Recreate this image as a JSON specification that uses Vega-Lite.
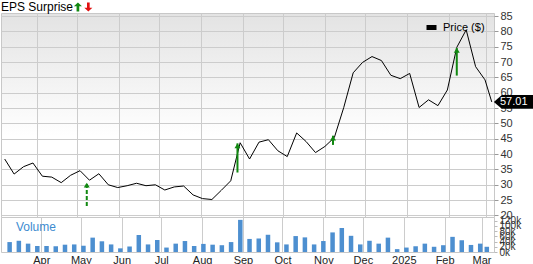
{
  "$schema": "https://vega.github.io/schema/vega-lite/v6.json",
  "padding": 0,
  "background": "white",
  "spacing": 0,
  "bounds": "flush",
  "config": {
    "font": "Liberation Sans",
    "view": {"stroke": "#c8c8c8"},
    "axis": {"gridColor": "#cccccc", "gridWidth": 1, "labelFont": "Liberation Sans", "labelFlush": false}
  },
  "datasets": {
    "weekly": [
      {"date": "2024/03/08", "price": 38.4, "volume": 38000},
      {"date": "2024/03/15", "price": 33.5, "volume": 43000},
      {"date": "2024/03/22", "price": 35.9, "volume": 32000},
      {"date": "2024/03/29", "price": 37.1, "volume": 23000},
      {"date": "2024/04/05", "price": 32.8, "volume": 23000},
      {"date": "2024/04/12", "price": 32.5, "volume": 22000},
      {"date": "2024/04/19", "price": 30.7, "volume": 28000},
      {"date": "2024/04/26", "price": 33.1, "volume": 29000},
      {"date": "2024/05/03", "price": 34.6, "volume": 24000},
      {"date": "2024/05/10", "price": 31.5, "volume": 55000},
      {"date": "2024/05/17", "price": 33.6, "volume": 41000},
      {"date": "2024/05/24", "price": 30.0, "volume": 29000},
      {"date": "2024/05/31", "price": 29.1, "volume": 14000},
      {"date": "2024/06/07", "price": 29.7, "volume": 21000},
      {"date": "2024/06/14", "price": 30.5, "volume": 65000},
      {"date": "2024/06/21", "price": 29.7, "volume": 29000},
      {"date": "2024/06/28", "price": 30.0, "volume": 46000},
      {"date": "2024/07/05", "price": 28.3, "volume": 17000},
      {"date": "2024/07/12", "price": 29.3, "volume": 32000},
      {"date": "2024/07/19", "price": 29.6, "volume": 42000},
      {"date": "2024/07/26", "price": 26.7, "volume": 23000},
      {"date": "2024/08/02", "price": 25.5, "volume": 31000},
      {"date": "2024/08/09", "price": 25.2, "volume": 28000},
      {"date": "2024/08/16", "price": 28.2, "volume": 26000},
      {"date": "2024/08/23", "price": 31.3, "volume": 38000},
      {"date": "2024/08/30", "price": 43.7, "volume": 123000},
      {"date": "2024/09/06", "price": 38.4, "volume": 50000},
      {"date": "2024/09/13", "price": 43.9, "volume": 52000},
      {"date": "2024/09/20", "price": 44.7, "volume": 66000},
      {"date": "2024/09/27", "price": 41.1, "volume": 37000},
      {"date": "2024/10/04", "price": 39.2, "volume": 29000},
      {"date": "2024/10/11", "price": 46.9, "volume": 61000},
      {"date": "2024/10/18", "price": 44.1, "volume": 56000},
      {"date": "2024/10/25", "price": 40.5, "volume": 29000},
      {"date": "2024/11/01", "price": 42.5, "volume": 42000},
      {"date": "2024/11/08", "price": 45.4, "volume": 75000},
      {"date": "2024/11/15", "price": 55.2, "volume": 92000},
      {"date": "2024/11/22", "price": 66.5, "volume": 62000},
      {"date": "2024/11/29", "price": 69.9, "volume": 29000},
      {"date": "2024/12/06", "price": 71.8, "volume": 43000},
      {"date": "2024/12/13", "price": 70.5, "volume": 32000},
      {"date": "2024/12/20", "price": 65.7, "volume": 55000},
      {"date": "2024/12/27", "price": 64.6, "volume": 11000},
      {"date": "2025/01/03", "price": 66.3, "volume": 17000},
      {"date": "2025/01/10", "price": 55.2, "volume": 22000},
      {"date": "2025/01/17", "price": 57.7, "volume": 32000},
      {"date": "2025/01/24", "price": 55.8, "volume": 20000},
      {"date": "2025/01/31", "price": 60.9, "volume": 26000},
      {"date": "2025/02/07", "price": 74.8, "volume": 58000},
      {"date": "2025/02/14", "price": 80.5, "volume": 45000},
      {"date": "2025/02/21", "price": 68.5, "volume": 27000},
      {"date": "2025/02/28", "price": 64.2, "volume": 32000},
      {"date": "2025/03/05", "price": 57.01, "volume": 20000}
    ],
    "eps": [
      {"date": "2024/05/08", "low": 23.1, "high": 30.7, "kind": "dashed"},
      {"date": "2024/08/28", "low": 34.0, "high": 43.5, "kind": "solid"},
      {"date": "2024/11/07", "low": 43.0, "high": 46.0, "kind": "solid"},
      {"date": "2025/02/07", "low": 65.6, "high": 74.6, "kind": "solid"}
    ],
    "last": [{"date": "2025/03/05", "price": 57.01}],
    "header": [{"label": "EPS Surprise"}]
  },
  "vconcat": [
    {
      "width": 493,
      "height": 204,
      "view": {
        "stroke": "#c8c8c8",
        "fill": {
          "gradient": "linear", "x1": 0, "y1": 0, "x2": 0, "y2": 1,
          "stops": [{"offset": 0, "color": "#e3e3e3"}, {"offset": 0.6, "color": "#ffffff"}, {"offset": 1, "color": "#ffffff"}]
        }
      },
      "encoding": {
        "x": {
          "type": "temporal",
          "scale": {"domain": [{"year": 2024, "month": 3, "date": 5, "hours": 6}, {"year": 2025, "month": 3, "date": 6, "hours": 16}]},
          "axis": {"title": null, "labels": false, "ticks": false, "domain": false, "grid": true, "tickCount": {"interval": "month", "step": 1}, "minExtent": 0, "maxExtent": 0, "labelPadding": 0, "offset": 0}
        },
        "y": {
          "type": "quantitative",
          "scale": {"domain": [19.5, 86], "nice": false, "zero": false},
          "axis": {"orient": "right", "title": null, "values": [20, 25, 30, 35, 40, 45, 50, 55, 60, 65, 70, 75, 80, 85], "labelOverlap": false, "grid": true, "domain": false, "tickSize": 4, "tickColor": "#999999", "labelFontSize": 11, "labelColor": "#333333", "labelPadding": 2}
        }
      },
      "layer": [
        {
          "data": {"name": "weekly"},
          "mark": {"type": "line", "strokeWidth": 1},
          "encoding": {
            "x": {"field": "date", "type": "temporal"},
            "y": {"field": "price", "type": "quantitative"},
            "color": {
              "datum": "Price ($)",
              "scale": {"range": ["#000000"]},
              "legend": {"orient": "top-right", "offset": 9, "title": null, "labelFontSize": 11, "labelColor": "#000000", "symbolType": "M-1,-0.5L1,-0.5L1,0.5L-1,0.5Z", "symbolSize": 100, "symbolFillColor": "#000000", "symbolStrokeWidth": 0, "symbolOpacity": 1, "padding": 0, "labelOffset": 6}
            }
          }
        },
        {
          "data": {"name": "eps"},
          "transform": [{"filter": "datum.kind === 'dashed'"}],
          "mark": {"type": "rule", "color": "#118811", "strokeWidth": 2, "strokeDash": [4, 2]},
          "encoding": {
            "x": {"field": "date", "type": "temporal"},
            "y": {"field": "low", "type": "quantitative"},
            "y2": {"field": "high"}
          }
        },
        {
          "data": {"name": "eps"},
          "transform": [{"filter": "datum.kind === 'solid'"}],
          "mark": {"type": "rule", "color": "#118811", "strokeWidth": 2},
          "encoding": {
            "x": {"field": "date", "type": "temporal"},
            "y": {"field": "low", "type": "quantitative"},
            "y2": {"field": "high"}
          }
        },
        {
          "data": {"name": "eps"},
          "mark": {"type": "point", "shape": "M0,0L1,1.6L-1,1.6Z", "size": 36, "filled": true, "color": "#118811", "opacity": 1},
          "encoding": {
            "x": {"field": "date", "type": "temporal"},
            "y": {"field": "high", "type": "quantitative"}
          }
        },
        {
          "data": {"name": "last"},
          "mark": {"type": "point", "shape": "M0.1,0L0.48,-0.33L2.2,-0.33L2.2,0.33L0.48,0.33Z", "size": 1764, "filled": true, "color": "#000000", "opacity": 1},
          "encoding": {
            "x": {"field": "date", "type": "temporal"},
            "y": {"field": "price", "type": "quantitative"}
          }
        },
        {
          "data": {"name": "last"},
          "mark": {"type": "text", "color": "#ffffff", "fontSize": 11, "align": "center", "baseline": "middle", "dx": 22},
          "encoding": {
            "x": {"field": "date", "type": "temporal"},
            "y": {"field": "price", "type": "quantitative"},
            "text": {"field": "price", "type": "quantitative", "format": ".2f"}
          }
        },
        {
          "data": {"name": "header"},
          "mark": {"type": "text", "color": "#000000", "fontSize": 12, "align": "left", "baseline": "middle"},
          "encoding": {
            "x": {"datum": {"year": 2024, "month": 3, "date": 5, "hours": 6}, "type": "temporal"},
            "y": {"datum": 87.96, "type": "quantitative"},
            "text": {"field": "label"}
          }
        },
        {
          "data": {"name": "header"},
          "mark": {"type": "point", "shape": "M0,-1L0.9,-0.15L0.3,-0.15L0.3,1L-0.3,1L-0.3,-0.15L-0.9,-0.15Z", "size": 80, "filled": true, "color": "#118811", "opacity": 1},
          "encoding": {
            "x": {"datum": {"year": 2024, "month": 5, "date": 1, "hours": 10}, "type": "temporal"},
            "y": {"datum": 87.96, "type": "quantitative"}
          }
        },
        {
          "data": {"name": "header"},
          "mark": {"type": "point", "shape": "M0,1L0.9,0.15L0.3,0.15L0.3,-1L-0.3,-1L-0.3,0.15L-0.9,0.15Z", "size": 80, "filled": true, "color": "#e01010", "opacity": 1},
          "encoding": {
            "x": {"datum": {"year": 2024, "month": 5, "date": 9, "hours": 4}, "type": "temporal"},
            "y": {"datum": 87.96, "type": "quantitative"}
          }
        }
      ]
    },
    {
      "width": 493,
      "height": 35,
      "view": {"stroke": "#c8c8c8", "fill": "#ffffff"},
      "encoding": {
        "x": {
          "type": "temporal",
          "scale": {"domain": [{"year": 2024, "month": 3, "date": 5, "hours": 6}, {"year": 2025, "month": 3, "date": 6, "hours": 16}]},
          "axis": {"title": null, "ticks": false, "domain": false, "grid": true, "tickCount": {"interval": "month", "step": 1}, "labelExpr": "month(datum.value) === 0 ? timeFormat(datum.value, '%Y') : timeFormat(datum.value, '%b')", "labelFontSize": 11, "labelColor": "#222222", "labelPadding": 2, "labelFlush": false, "labelOverlap": false}
        },
        "y": {
          "type": "quantitative",
          "scale": {"domain": [0, 134000], "nice": false},
          "axis": {"orient": "right", "title": null, "values": [0, 20000, 40000, 60000, 80000, 100000, 120000], "format": "~s", "labelOverlap": false, "grid": false, "domain": false, "tickSize": 3, "tickColor": "#bbbbbb", "labelFontSize": 10, "labelColor": "#333333", "labelPadding": 2}
        }
      },
      "layer": [
        {
          "data": {"name": "weekly"},
          "mark": {"type": "bar", "color": "#4d8fd0", "width": 4.5},
          "encoding": {
            "x": {"field": "date", "type": "temporal"},
            "y": {"field": "volume", "type": "quantitative"}
          }
        },
        {
          "data": {"values": [{"label": "Volume"}]},
          "mark": {"type": "text", "color": "#3d8bd0", "fontSize": 12, "align": "left", "baseline": "middle"},
          "encoding": {
            "x": {"datum": {"year": 2024, "month": 3, "date": 12, "hours": 18}, "type": "temporal"},
            "y": {"datum": 96000, "type": "quantitative"},
            "text": {"field": "label"}
          }
        }
      ]
    }
  ]
}
